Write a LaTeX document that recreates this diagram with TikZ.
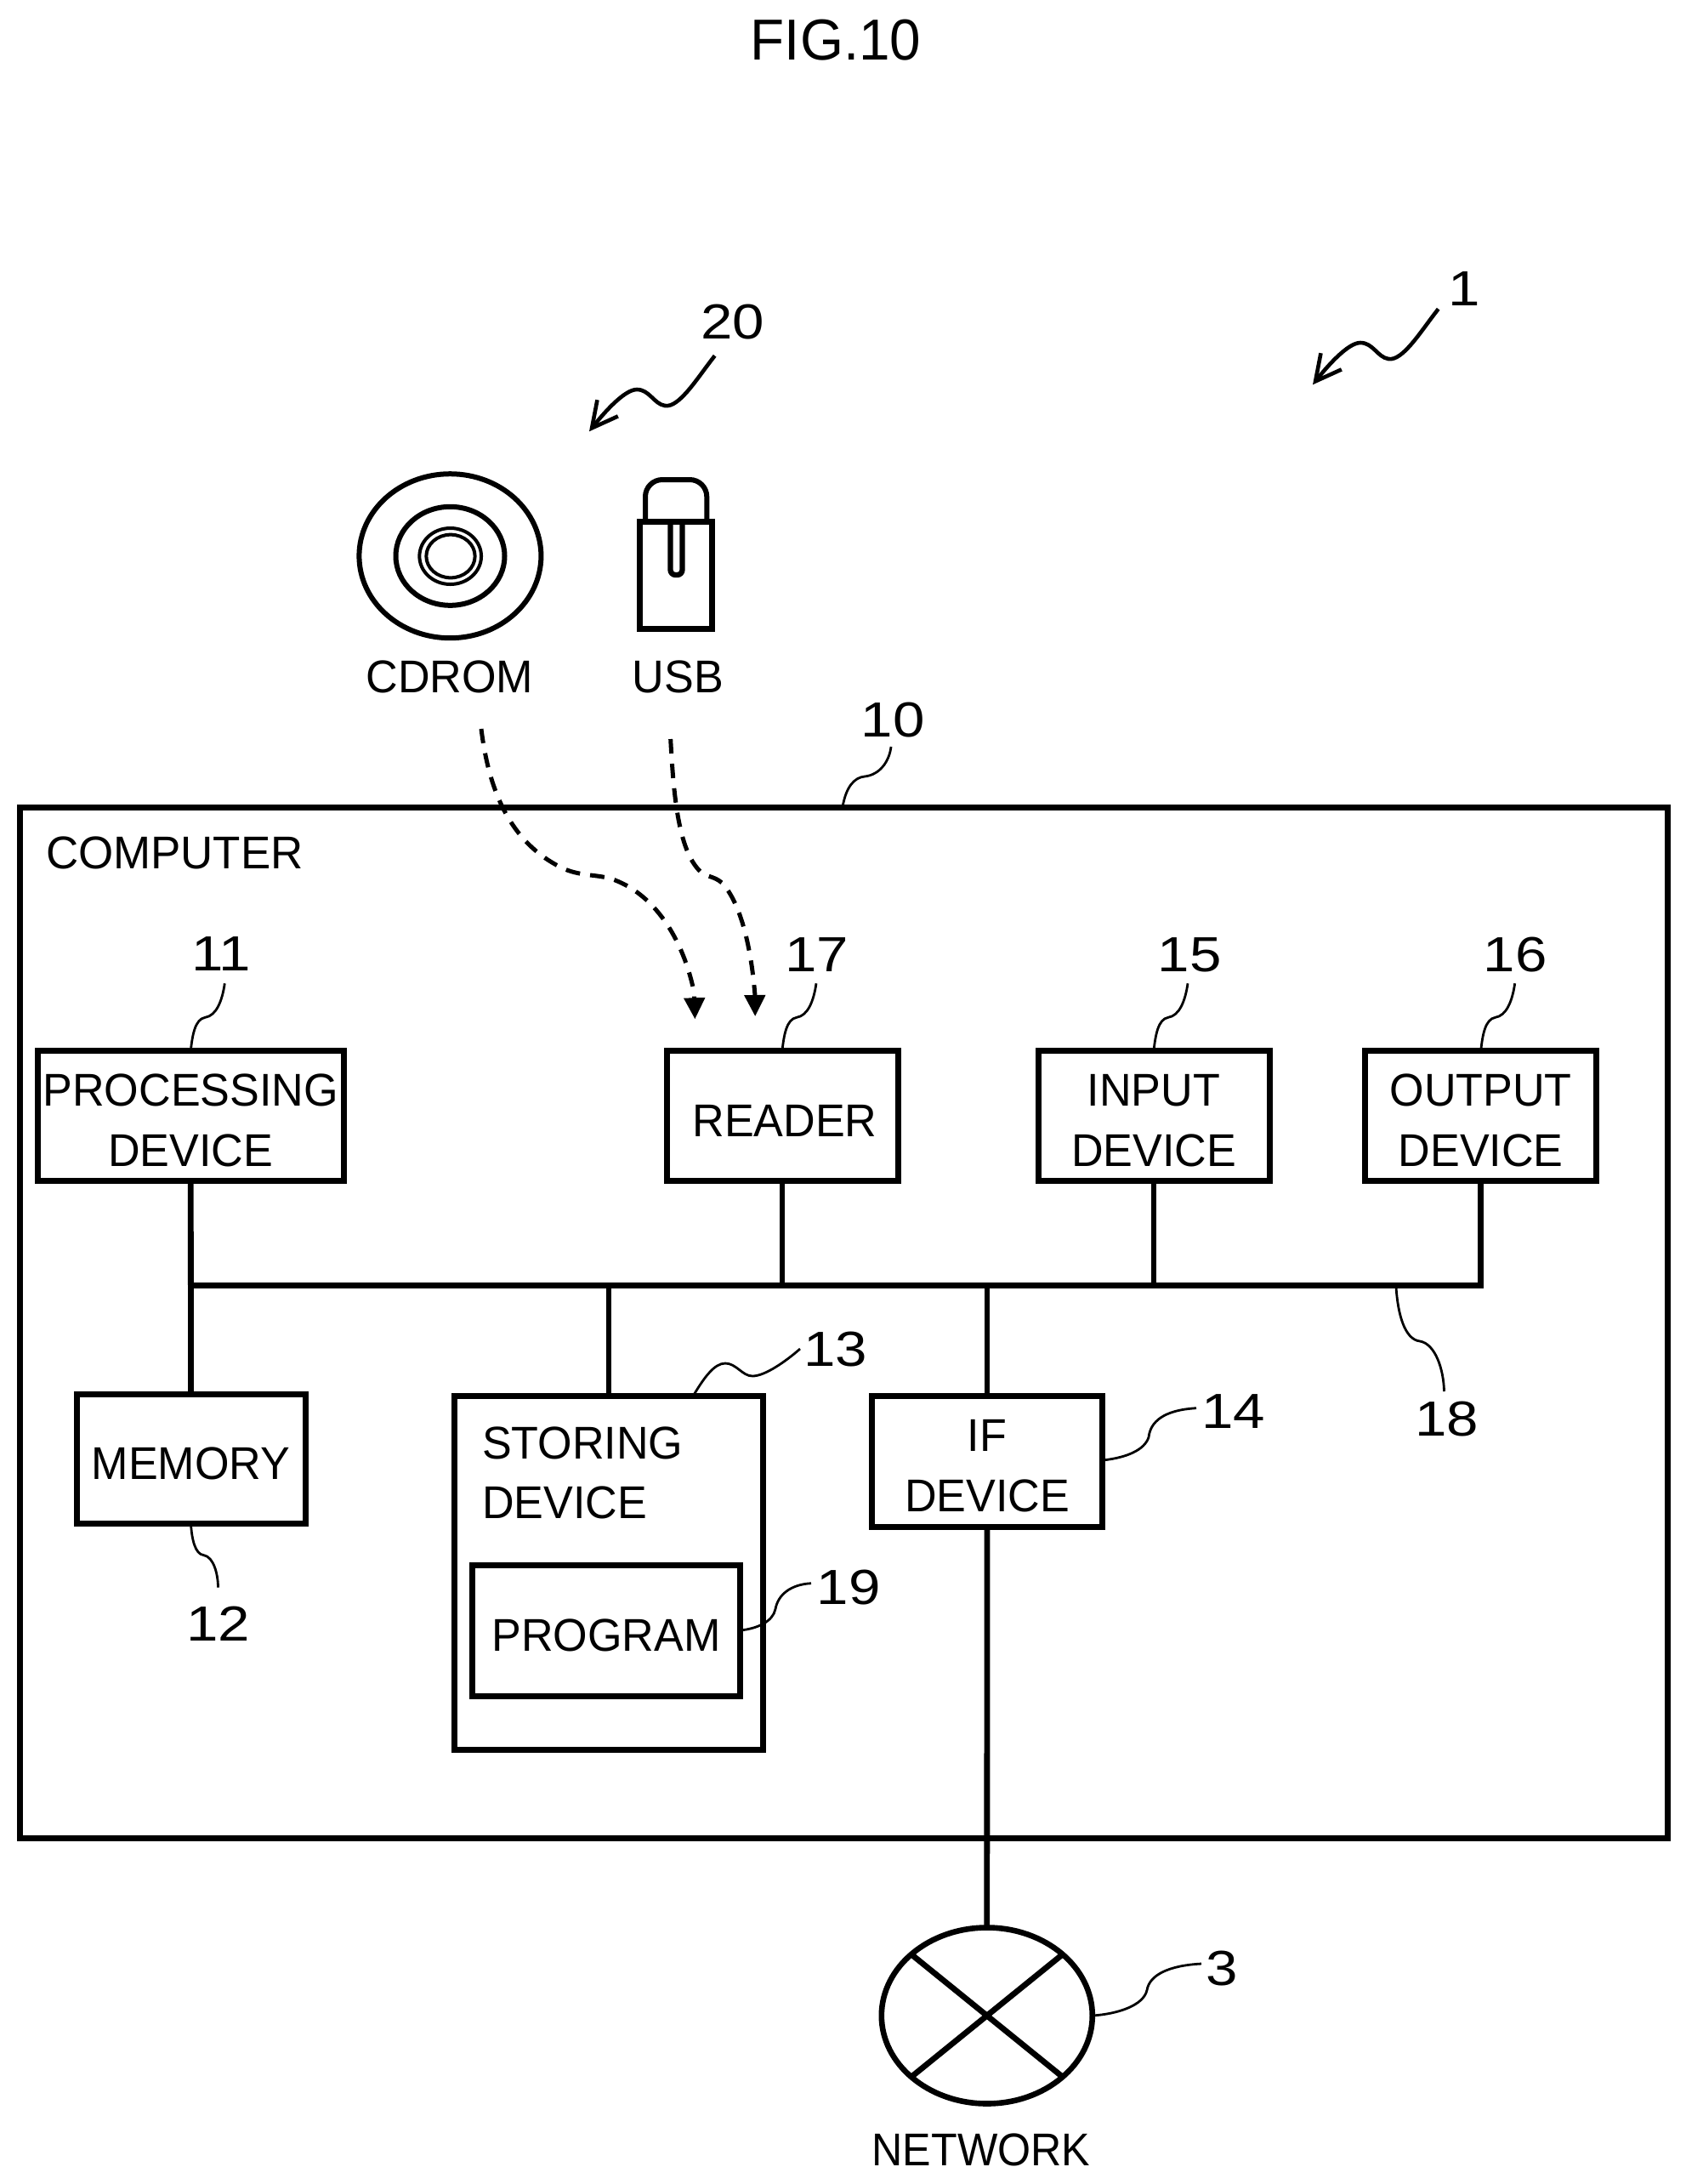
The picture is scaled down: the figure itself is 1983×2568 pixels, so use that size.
\documentclass[tikz,border=0pt]{standalone}
\usepackage{fontspec}
\setmainfont[FakeStretch=0.965]{Liberation Sans}
\newfontfamily\numfont[FakeStretch=1.16]{Liberation Sans}
\newfontfamily\narrowfont[FakeStretch=0.93]{Liberation Sans}
\newfontfamily\widerfont[FakeStretch=0.98]{Liberation Sans}
\usetikzlibrary{arrows.meta,shapes.geometric}
\tikzset{
  txt/.style={inner sep=0pt,outer sep=0pt,font=\fontsize{54}{70.7}\selectfont,align=center},
  boxtxt/.style={txt,yshift=-5.5pt},
  num/.style={inner sep=0pt,outer sep=0pt,font=\numfont\fontsize{58}{58}\selectfont},
  blk/.style 2 args={draw,line width=7pt,inner sep=0pt,outer sep=0pt,minimum width=#1,minimum height=#2},
  conn/.style={line width=6.8pt},
  lead/.style={line width=2.8pt},
  dashline/.style={line width=5pt,dash pattern=on 17pt off 12pt,-{Triangle[length=25pt,width=24pt]}},
  refarrow/.style={line width=4.6pt,-{Straight Barb[length=30pt,width=31pt]}},
  disc/.style n args={3}{line width=#1,draw,ellipse,inner sep=0pt,outer sep=0pt,minimum width=#2,minimum height=#3}
}
\newcommand{\topleader}[1]{\draw[lead,shift={(#1.north)}] (0,0) .. controls (2,-18) and (5,-37) .. (17,-39) .. controls (30,-41) and (37,-58) .. (40,-79);}
\begin{document}
\begin{tikzpicture}[x=1pt,y=-1pt]
\useasboundingbox (0,0) rectangle (1983,2568);
\fill[white] (0,0) rectangle (1983,2568);
% title
\node[txt,font=\fontsize{68}{68}\selectfont] (title) at (983,47.5) {FIG.10};
% outer
\node[blk={1937.3pt}{1212pt}] (comp) at (992.35,1555) {};
\node[txt,anchor=west,font=\widerfont\fontsize{54}{70.7}\selectfont] (comptxt) at (54,1002.5) {COMPUTER};
% boxes
\node[blk={359.7pt}{153.4pt}] (proc) at (224.3,1312) {};
\node[boxtxt] (proct) at (proc) {PROCESSING\\DEVICE};
\node[blk={272pt}{153.4pt}] (read) at (920,1312) {};
\node[boxtxt,xshift=3pt] (readt) at (read) {READER};
\node[blk={272pt}{153.4pt}] (inp) at (1357,1312) {};
\node[boxtxt] (inpt) at (inp) {INPUT\\DEVICE};
\node[blk={272pt}{153.4pt}] (outp) at (1741.7,1312) {};
\node[boxtxt] (outpt) at (outp) {OUTPUT\\DEVICE};
\node[blk={269pt}{152.5pt}] (mem) at (224.5,1715.3) {};
\node[boxtxt] (memt) at (mem) {MEMORY};
\node[blk={362.6pt}{415.3pt}] (stor) at (716,1849.4) {};
\node[txt,align=left,anchor=west] (stort) at (567,1732) {STORING\\DEVICE};
\node[blk={315.6pt}{153.4pt}] (prog) at (713,1917.5) {};
\node[boxtxt] (progt) at (prog) {PROGRAM};
\node[blk={271.4pt}{154pt}] (ifd) at (1161,1718) {};
\node[boxtxt] (ifdt) at (ifd) {IF\\DEVICE};
% network
\node[disc={6.6pt}{248pt}{207pt}] (net) at (1160.8,2370) {};
\draw[conn] (net.39) -- (net.-141);
\draw[conn] (net.141) -- (net.-39);
\node[txt,font=\narrowfont\fontsize{54}{70.7}\selectfont] (nettxt) at (1154,2527.6) {NETWORK};
% bus
\coordinate (busl) at (224.3,1511.7);
\draw[conn] (proc.south) -- (mem.north);
\draw[conn] (outp.south) |- (busl);
\draw[conn] (read.south) -- (read.south |- busl);
\draw[conn] (inp.south) -- (inp.south |- busl);
\draw[conn] (stor.north) -- (stor.north |- busl);
\draw[conn] (ifd.north) -- (ifd.north |- busl);
\draw[conn] (ifd.south) -- (net.north);
% numerals
\node[num] (n1) at (1722.5,340) {1};
\node[num] (n20) at (862,378.4) {20};
\node[num] (n10) at (1050,846.7) {10};
\node[num] (n11) at (260,1122) {11};
\node[num] (n17) at (961,1122.5) {17};
\node[num] (n15) at (1399,1122.5) {15};
\node[num] (n16) at (1782,1122.5) {16};
\node[num] (n13) at (982.5,1586.7) {13};
\node[num] (n14) at (1450.8,1660) {14};
\node[num] (n18) at (1701.7,1668.3) {18};
\node[num] (n19) at (998,1866.7) {19};
\node[num] (n12) at (257,1909) {12};
\node[num] (n3) at (1436.7,2315) {3};
% leaders
\topleader{proc}
\topleader{read}
\topleader{inp}
\topleader{outp}
\draw[lead] (comp.north -| 991,0) .. controls (995,925) and (1005,914) .. (1017,913) .. controls (1035,911) and (1046,895) .. (1048,878);
\draw[lead] (stor.north -| 815,0) .. controls (828,1620) and (840,1603) .. (853,1603) .. controls (866,1603) and (873,1618) .. (885,1618) .. controls (900,1618) and (925,1600) .. (941,1586);
\draw[lead] (ifd.east |- 0,1717) .. controls (1325,1714) and (1346,1705) .. (1351,1690) .. controls (1353,1672) and (1368,1658) .. (1407,1655.7);
\draw[lead] (prog.east |- 0,1917) .. controls (890,1915) and (909,1907) .. (912,1892) .. controls (915,1875) and (930,1863) .. (954,1861.7);
\draw[lead,shift={(mem.south)}] (0,0) .. controls (1,18) and (5,36) .. (15,37) .. controls (27,39) and (32,60) .. (32,75);
\draw[lead] (1642,1513) .. controls (1644,1545) and (1652,1575) .. (1670,1577) .. controls (1688,1580) and (1698,1610) .. (1698.5,1636);
\draw[lead] (net.east) .. controls (1315,2368) and (1345,2358) .. (1349,2340) .. controls (1352,2322) and (1375,2311) .. (1413,2309);
% CD
\node[disc={6pt}{214pt}{193pt}] (cd1) at (529.4,653.7) {};
\node[disc={6pt}{128pt}{116pt}] (cd2) at (529.5,653.8) {};
\node[disc={4pt}{72.7pt}{66pt}] (cd3) at (529.7,654) {};
\node[disc={4pt}{57.3pt}{50.7pt}] (cd4) at (530,654) {};
\node[txt] (cdtxt) at (529,796) {CDROM};
% USB
\node[blk={84.6pt}{125.9pt},line width=6.8pt] (ub) at (795,676.3) {};
\draw[line width=6pt,rounded corners=20pt] (759,612) -- (759,564) -- (831.3,564) -- (831.3,612);
\draw[line width=6.3pt,rounded corners=6pt] (788.5,615) -- (788.5,676) -- (802.5,676) -- (802.5,615);
\node[txt] (usbtxt) at (797.5,796) {USB};
% reference arrows
\coordinate (a1s) at (1691.7,363.3);
\coordinate (a1e) at (1544,452.3);
\coordinate (a20s) at (840.7,418.3);
\coordinate (a20e) at (693,507.3);
\draw[refarrow] (a1s) .. controls (1672,388) and (1650,425) .. (1633,422) .. controls (1620,420) and (1615,403) .. (1600,403) .. controls (1585,403) and (1560,432) .. (a1e);
\draw[refarrow] (a20s) .. controls (821,443) and (799,480) .. (782,477) .. controls (769,475) and (764,458) .. (749,458) .. controls (734,458) and (709,487) .. (a20e);
% dashed
\coordinate (d1s) at (566,857);
\coordinate (d1e) at (817.4,1198.3);
\coordinate (d2s) at (788.7,869);
\coordinate (d2e) at (888.2,1195);
\draw[dashline] (d1s) .. controls (575,930) and (600,990) .. (660,1020) .. controls (680,1030) and (700,1028) .. (718,1033) .. controls (770,1050) and (804,1105) .. (816.6,1168) -- (d1e);
\draw[dashline] (d2s) .. controls (792,930) and (797,1000) .. (824,1025) .. controls (830,1031) and (840,1030) .. (849,1038) .. controls (870,1060) and (883,1110) .. (887.8,1168) -- (d2e);
\end{tikzpicture}
\end{document}
